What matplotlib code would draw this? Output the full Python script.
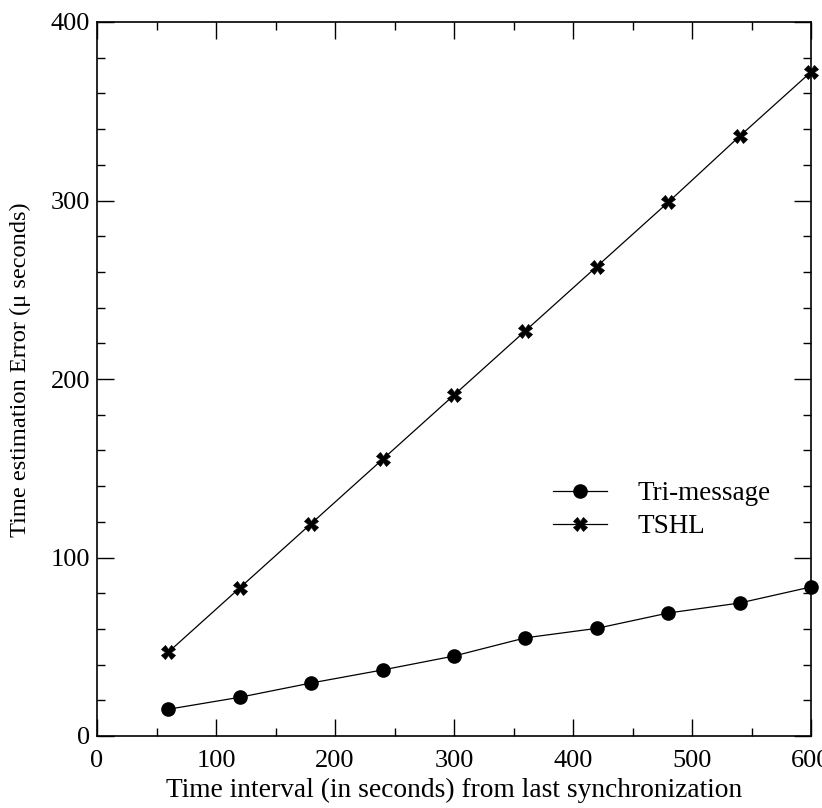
import matplotlib
matplotlib.use("Agg")
import matplotlib.pyplot as plt
from matplotlib.ticker import MultipleLocator

plt.rcParams["font.family"] = ["Liberation Serif", "DejaVu Serif"]

intervals = [60, 120, 180, 240, 300, 360, 420, 480, 540, 600]
tri_message = [15, 21.7, 29.7, 37, 44.8, 55, 60.3, 68.9, 74.5, 83.5]
tshl = [47, 83, 119, 155, 191, 227, 263, 299, 336, 372]

fig = plt.figure(figsize=(8.22, 8.08), dpi=100)
ax = fig.add_axes([97 / 822, 1 - 736 / 808, 714 / 822, 714 / 808])

ax.plot(intervals, tri_message, color="black", lw=0.9, marker="o",
        markersize=9.5, label="Tri-message", clip_on=False, zorder=3)
ax.plot(intervals, tshl, color="black", lw=0.9, marker="X",
        markersize=10, markeredgewidth=0.5, label="TSHL", clip_on=False, zorder=3)

ax.set_xlim(0, 600)
ax.set_ylim(0, 400)
ax.xaxis.set_major_locator(MultipleLocator(100))
ax.xaxis.set_minor_locator(MultipleLocator(50))
ax.yaxis.set_major_locator(MultipleLocator(100))
ax.yaxis.set_minor_locator(MultipleLocator(20))
ax.tick_params(which="both", direction="in", top=True, right=True,
               labelsize=19, width=1)
ax.tick_params(axis="x", which="both", pad=10)
ax.tick_params(axis="y", which="both", pad=5)
ax.tick_params(which="major", length=12)
ax.tick_params(which="minor", length=6)
for s in ax.spines.values():
    s.set_linewidth(1.2)

ax.set_xlabel("Time interval (in seconds) from last synchronization",
              fontsize=19.8, labelpad=4)
ax.set_ylabel("Time estimation Error (μ seconds)", fontsize=17.6)
ax.yaxis.set_label_coords(-0.092, 0.513)

leg = ax.legend(loc="upper left", bbox_to_anchor=(0.604, 0.391), frameon=False,
                fontsize=19.5, handlelength=2.0, handletextpad=1.15,
                labelspacing=0.3)

fig.savefig("out.png", dpi=100)
